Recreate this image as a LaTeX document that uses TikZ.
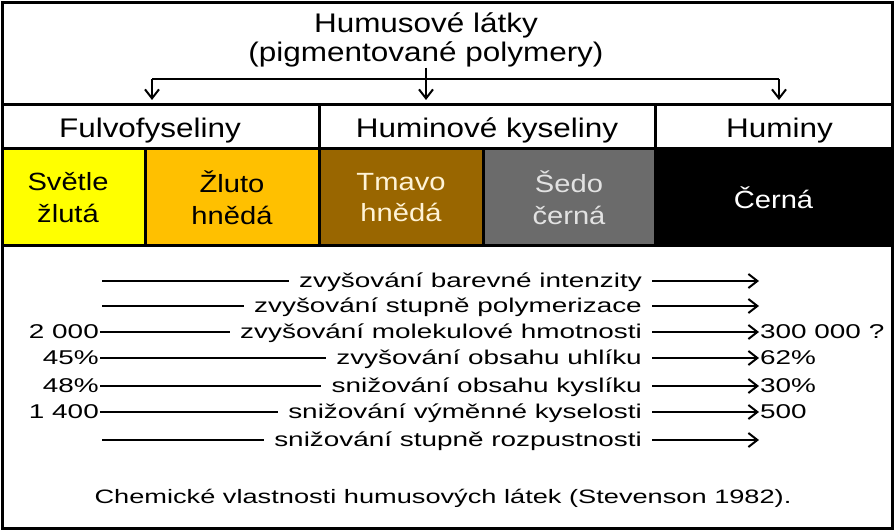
\documentclass[tikz,border=0pt]{standalone}
\usepackage{fontspec}
\setmainfont{Liberation Sans}
\newfontfamily\bigfam[FakeStretch=1.17]{Liberation Sans}
\newfontfamily\smallfam[FakeStretch=1.4]{Liberation Sans}
\usetikzlibrary{arrows.meta}
\definecolor{cyel}{HTML}{FFFF00}
\definecolor{corange}{HTML}{FFC000}
\definecolor{cbrown}{HTML}{996600}
\definecolor{cgray}{HTML}{6B6B6B}
\definecolor{ccream}{HTML}{FFF3D6}
\definecolor{clgray}{HTML}{E2E2E2}
\begin{document}
\begin{tikzpicture}[x=1bp,y=-1bp,
  box/.style={draw=black, line width=3bp, rectangle, inner sep=0pt, outer sep=0pt},
  hdrtext/.style={font=\bigfam\fontsize{27}{31}\selectfont, text height=22bp, text depth=0bp},
  celltext/.style={font=\bigfam\fontsize{25}{32}\selectfont, align=center},
  rowtext/.style={font=\smallfam\fontsize{20}{24}\selectfont, text height=15bp, text depth=2bp, inner ysep=0pt},
  conn/.style={line width=2bp},
  arr/.style={line width=2bp, -{Straight Barb[length=9bp,width=14bp,line width=2bp]}}
]
\fill[white] (0,0) rectangle (895,531);
\useasboundingbox (0,0) rectangle (895,531);

% boxes
\node[box, minimum width=889bp, minimum height=102bp] (topbox) at (447.5,54) {};
\node[box, minimum width=889bp, minimum height=282bp] (botbox) at (447.5,387) {};

\node[box, hdrtext, minimum width=316bp, minimum height=44bp] (fv) at (161,127) {Fulvofyseliny\hspace*{22bp}};
\node[box, hdrtext, minimum width=336bp, minimum height=44bp] (hk) at (487,127) {Huminové kyseliny};
\node[box, hdrtext, minimum width=237bp, minimum height=44bp] (hm) at (773.5,127) {\hspace*{12bp}Huminy};

\node[box, celltext, fill=cyel, minimum width=142bp, minimum height=97bp] (c1) at (74,197.5) {Světle\hspace*{12bp}\\žlutá\hspace*{12bp}};
\node[box, celltext, fill=corange, minimum width=174bp, minimum height=97bp] (c2) at (232,197.5) {Žluto\\hnědá};
\node[box, celltext, fill=cbrown, text=ccream, minimum width=164bp, minimum height=97bp] (c3) at (401,197.5) {Tmavo\\hnědá};
\node[box, celltext, fill=cgray, text=clgray, minimum width=172bp, minimum height=97bp] (c4) at (569,197.5) {Šedo\\černá};
\node[box, celltext, fill=black, text=white, minimum width=237bp, minimum height=97bp] (c5) at (773.5,197.5) {Černá};

% title and connectors
\node[font=\bigfam\fontsize{27}{30}\selectfont, align=center, anchor=north, inner sep=0pt] (title) at (426,12) {Humusové látky\\(pigmentované polymery)};
\coordinate (jl) at (152,79);
\coordinate (jr) at (779,79);
\coordinate (a1) at (152,100);
\coordinate (a2) at (426,100);
\coordinate (a3) at (779,100);
\draw[conn] (jl) -- (jr);
\draw[arr] (jl) -- (a1);
\draw[arr] (jr) -- (a3);
\draw[arr] (title.south) -- (a2);

% rows
\coordinate (l1) at (102,281);
\coordinate (l2) at (102,306);
\node[rowtext, anchor=east, inner xsep=1bp] (l3) at (100,332) {2 000};
\node[rowtext, anchor=east, inner xsep=1bp] (l4) at (100,358) {45\%};
\node[rowtext, anchor=east, inner xsep=1bp] (l5) at (100,386) {48\%};
\node[rowtext, anchor=east, inner xsep=1bp] (l6) at (100,412) {1 400};
\coordinate (l7) at (102,440);

\node[rowtext, anchor=east, inner xsep=10bp] (t1) at (652,281) {zvyšování barevné intenzity};
\node[rowtext, anchor=east, inner xsep=10bp] (t2) at (652,306) {zvyšování stupně polymerizace};
\node[rowtext, anchor=east, inner xsep=10bp] (t3) at (652,332) {zvyšování molekulové hmotnosti};
\node[rowtext, anchor=east, inner xsep=10bp] (t4) at (652,358) {zvyšování obsahu uhlíku};
\node[rowtext, anchor=east, inner xsep=10bp] (t5) at (652,386) {snižování obsahu kyslíku};
\node[rowtext, anchor=east, inner xsep=10bp] (t6) at (652,412) {snižování výměnné kyselosti};
\node[rowtext, anchor=east, inner xsep=10bp] (t7) at (652,440) {snižování stupně rozpustnosti};

\coordinate (r1) at (759,281);
\coordinate (r2) at (759,306);
\node[rowtext, anchor=west, inner xsep=1bp] (r3) at (759,332) {300 000 ?};
\node[rowtext, anchor=west, inner xsep=1bp] (r4) at (759,358) {62\%};
\node[rowtext, anchor=west, inner xsep=1bp] (r5) at (759,386) {30\%};
\node[rowtext, anchor=west, inner xsep=1bp] (r6) at (759,412) {500};
\coordinate (r7) at (759,440);

\foreach \i in {1,...,7}{
  \draw[conn] (l\i) -- (t\i.west);
  \draw[arr] (t\i.east) -- (r\i);
}

\node[font=\smallfam\fontsize{19.5}{24}\selectfont] (cap) at (443,498) {Chemické vlastnosti humusových látek (Stevenson 1982).};
\end{tikzpicture}
\end{document}
